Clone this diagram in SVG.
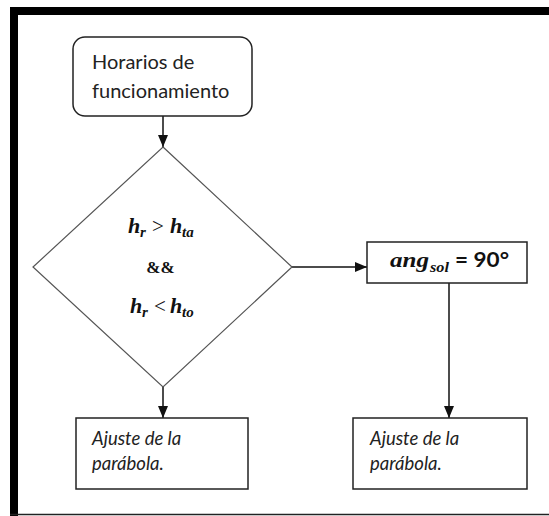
<svg xmlns="http://www.w3.org/2000/svg" width="549" height="516" viewBox="0 0 549 516">
<defs>
<style>
.box{fill:#fff;stroke:#222;stroke-width:1.5}
.dia{fill:#fff;stroke:#555;stroke-width:1.2}
.con{fill:none;stroke:#111;stroke-width:1.5}
.txt{font-family:Lato,"Liberation Sans",sans-serif;font-size:20px;fill:#222}
.itx{font-family:Lato,"Liberation Sans",sans-serif;font-style:italic;font-size:18.5px;fill:#222}
.mi{font-family:"Liberation Serif","DejaVu Serif",serif;font-style:italic;font-weight:bold;font-size:22px;fill:#111}
.sub{font-family:"Liberation Serif","DejaVu Serif",serif;font-style:italic;font-weight:bold;font-size:15px;fill:#111}
.mo{font-family:"Liberation Serif","DejaVu Serif",serif;font-size:21px;fill:#111}
.bs{font-family:Lato,"Liberation Sans",sans-serif;font-weight:bold;fill:#111}
.amp{font-family:"Liberation Serif","DejaVu Serif",serif;font-weight:bold;font-size:17px;fill:#111}
</style>
<marker id="ah" markerUnits="userSpaceOnUse" markerWidth="12" markerHeight="12" viewBox="0 0 12 12" refX="12" refY="6" orient="auto">
<path d="M0,1 L12,6 L0,11 Z" fill="#111"/>
</marker>
</defs>
<rect width="549" height="516" fill="#fff"/>
<g id="frame">
<rect x="10" y="7" width="539" height="8" fill="#000"/>
<rect x="10" y="7" width="8" height="509" fill="#000"/>
<line x1="10" y1="514.5" x2="549" y2="514.5" stroke="#222" stroke-width="1.5"/>
</g>
<g id="connectors">
<line class="con" x1="163" y1="116" x2="163" y2="147" marker-end="url(#ah)"/>
<line class="con" x1="163" y1="387" x2="163" y2="418" marker-end="url(#ah)"/>
<line class="con" x1="292" y1="267" x2="367" y2="267" marker-end="url(#ah)"/>
<line class="con" x1="449" y1="283" x2="449" y2="418" marker-end="url(#ah)"/>
</g>
<g id="start">
<rect class="box" x="73" y="37" width="179" height="79" rx="12"/>
<text class="txt" x="92" y="69">Horarios de</text>
<text class="txt" x="92" y="98">funcionamiento</text>
</g>
<g id="decision">
<polygon class="dia" points="163,147 292,267 163,387 33,267"/>
<text y="233"><tspan class="mi" x="128">h</tspan><tspan class="sub" x="140" y="237">r</tspan><tspan class="mo" x="152" y="233">&gt;</tspan><tspan class="mi" x="170" y="233">h</tspan><tspan class="sub" x="182" y="237">ta</tspan></text>
<text class="amp" x="160.5" y="273" text-anchor="middle">&amp;&amp;</text>
<text y="313"><tspan class="mi" x="130">h</tspan><tspan class="sub" x="142" y="317">r</tspan><tspan class="mo" x="154" y="313">&lt;</tspan><tspan class="mi" x="170" y="313">h</tspan><tspan class="sub" x="182" y="317">to</tspan></text>
</g>
<g id="angsol">
<rect class="box" x="367" y="242" width="160" height="41"/>
<text y="267"><tspan class="mi" x="390" font-size="24" textLength="39" lengthAdjust="spacingAndGlyphs">ang</tspan><tspan class="sub" x="430" y="272" textLength="19" lengthAdjust="spacingAndGlyphs">sol</tspan><tspan class="bs" x="455" y="267" font-size="21" textLength="54" lengthAdjust="spacingAndGlyphs">= 90°</tspan></text>
</g>
<g id="result-left">
<rect class="box" x="76" y="418" width="172" height="71"/>
<text class="itx" x="92" y="445">Ajuste de la</text>
<text class="itx" x="92" y="470">parábola.</text>
</g>
<g id="result-right">
<rect class="box" x="353" y="418" width="174" height="71"/>
<text class="itx" x="370" y="445">Ajuste de la</text>
<text class="itx" x="370" y="470">parábola.</text>
</g>
</svg>
